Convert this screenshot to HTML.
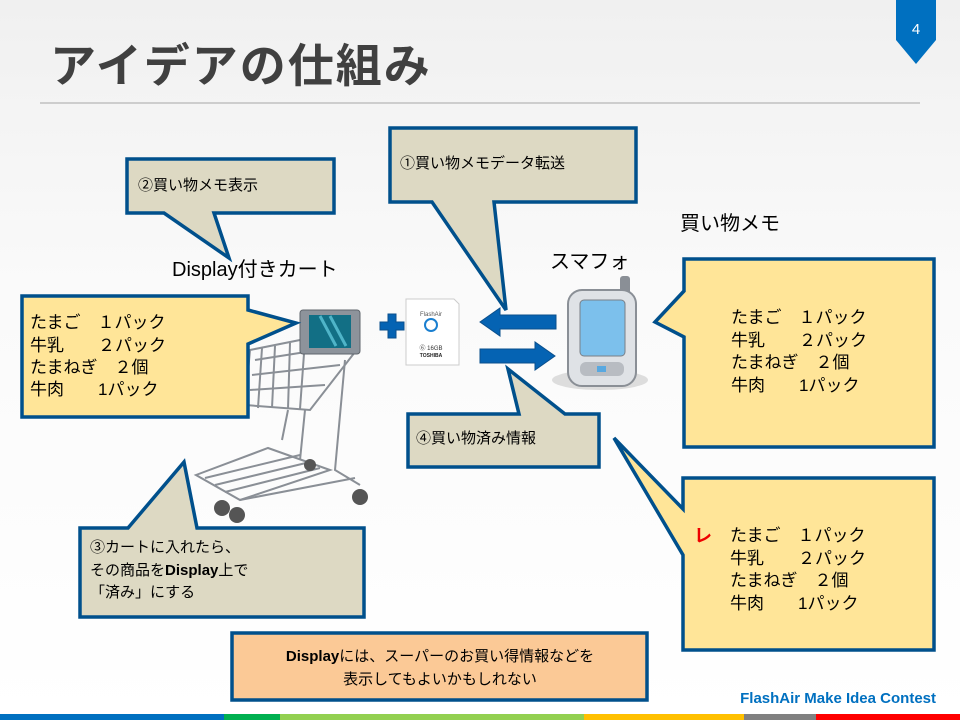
<!DOCTYPE html>
<html><head><meta charset="utf-8"><style>
html,body{margin:0;padding:0}
body{width:960px;height:720px;overflow:hidden;background:linear-gradient(#f0f0f0,#fafafa 40%,#fff);position:relative;font-family:"Liberation Sans","Noto Sans CJK JP",sans-serif}
svg{position:absolute;left:0;top:0}
text{font-family:"Liberation Sans","Noto Sans CJK JP",sans-serif}
</style></head><body>
<svg width="960" height="720" viewBox="0 0 960 720">
<text x="50" y="82" font-size="46" font-weight="bold" fill="#404040" letter-spacing="2">アイデアの仕組み</text>
<line x1="40" y1="103" x2="920" y2="103" stroke="#c0c0c0" stroke-width="1.5"/>
<path d="M896 0 H936 V40 L916 64 L896 40 Z" fill="#0070c0"/>
<text x="916" y="34" font-size="15" fill="#fff" text-anchor="middle">4</text>

<!-- cart -->
<g stroke="#8a8f96" fill="none" stroke-width="2">
<path d="M300 340 L250 350 L245 405 L310 410 L355 352"/>
<path d="M255 360 L350 345 M252 375 L340 365 M250 390 L325 385"/>
<path d="M262 348 L258 408 M275 346 L272 408 M290 343 L288 409 M305 340 L300 409"/>
<path d="M288 410 L282 440 M305 410 L300 460 M345 360 L335 470 L360 485"/>
<path d="M196 475 L268 448 L330 470 L240 500 Z"/>
<path d="M205 478 L300 455 M215 485 L310 462 M225 492 L320 468"/>
<path d="M240 500 L355 478"/>
</g>
<g fill="#555"><circle cx="222" cy="508" r="8"/><circle cx="237" cy="515" r="8"/><circle cx="360" cy="497" r="8"/><circle cx="310" cy="465" r="6"/></g>
<rect x="300" y="310" width="60" height="44" rx="3" fill="#8d939b" stroke="#5f656c"/>
<rect x="309" y="315" width="42" height="33" fill="#126f85"/>
<path d="M320 316 L336 346 M330 316 L346 346" stroke="#4fb4c8" stroke-width="3"/>
<!-- plus -->
<path d="M380 322 h8 v-8 h8 v8 h8 v8 h-8 v8 h-8 v-8 h-8 z" fill="#0563b3" stroke="#0a4f8c"/>
<!-- SD card -->
<path d="M406 299 H454 L459 304 V365 H406 Z" fill="#fff" stroke="#ccc"/>
<text x="431" y="316" font-size="6" fill="#555" text-anchor="middle">FlashAir</text>
<circle cx="431" cy="325" r="6" fill="none" stroke="#1a7fd0" stroke-width="2"/>
<text x="431" y="350" font-size="6" fill="#333" text-anchor="middle">⑥ 16GB</text>
<text x="431" y="357" font-size="5" font-weight="bold" fill="#222" text-anchor="middle">TOSHIBA</text>
<!-- arrows -->
<path d="M556 315 H500 V308 L480 322 L500 336 V329 H556 Z" fill="#0563b3" stroke="#0a4f8c"/>
<path d="M480 349 H535 V342 L555 356 L535 370 V363 H480 Z" fill="#0563b3" stroke="#0a4f8c"/>
<!-- phone -->
<ellipse cx="600" cy="380" rx="48" ry="10" fill="#ddd"/>
<rect x="620" y="276" width="10" height="20" rx="3" fill="#8a8f96"/>
<rect x="568" y="290" width="68" height="96" rx="14" fill="#dfe2e6" stroke="#8a8f96" stroke-width="2"/>
<rect x="580" y="300" width="45" height="56" rx="4" fill="#7cc0ec" stroke="#7a7f86"/>
<rect x="580" y="362" width="44" height="14" rx="6" fill="#b8bcc2"/>
<rect x="597" y="366" width="9" height="6" fill="#58a8e0"/>

<g font-size="20" fill="#000">
<text x="172" y="276">Display付きカート</text>
<text x="550" y="268">スマフォ</text>
<text x="680" y="230">買い物メモ</text>
</g>

<g stroke="#00508c" stroke-width="3.5" stroke-linejoin="miter">
<path d="M127 159 H334 V213 H214 L229 258 L164 213 H127 Z" fill="#ddd9c3"/>
<path d="M390 128 H636 V202 H494 L506 310 L432 202 H390 Z" fill="#ddd9c3"/>
<path d="M22 296 H248 V310 L296 323 L248 344 V417 H22 Z" fill="#ffe598"/>
<path d="M684 259 H934 V447 H684 V337 L655 322 L684 291 Z" fill="#ffe598"/>
<path d="M408 414 H519 L508 369 L565 414 H599 V467 H408 Z" fill="#ddd9c3"/>
<path d="M683 478 H934 V650 H683 V555 L614 438 L683 509 Z" fill="#ffe598"/>
<path d="M80 528 H128 L184 462 L197 528 H364 V617 H80 Z" fill="#ddd9c3"/>
<path d="M232 633 H647 V700 H232 Z" fill="#fbc996"/>
</g>

<g font-size="15" fill="#000">
<text x="138" y="190">②買い物メモ表示</text>
<text x="400" y="168">①買い物メモデータ転送</text>
<text x="416" y="443">④買い物済み情報</text>
<text x="90" y="552">③カートに入れたら、</text>
<text x="90" y="575">その商品を<tspan font-weight="bold">Display</tspan>上で</text>
<text x="90" y="597">「済み」にする</text>
<text x="440" y="661" text-anchor="middle"><tspan font-weight="bold">Display</tspan>には、スーパーのお買い得情報などを</text>
<text x="440" y="684" text-anchor="middle">表示してもよいかもしれない</text>
</g>
<g font-size="17" fill="#000">
<text x="30" y="328">たまご　１パック</text>
<text x="30" y="351">牛乳　　２パック</text>
<text x="30" y="373">たまねぎ　２個</text>
<text x="30" y="395">牛肉　　1パック</text>
<text x="731" y="323">たまご　１パック</text>
<text x="731" y="346">牛乳　　２パック</text>
<text x="731" y="368">たまねぎ　２個</text>
<text x="731" y="391">牛肉　　1パック</text>
<text x="730" y="541">たまご　１パック</text>
<text x="730" y="564">牛乳　　２パック</text>
<text x="730" y="586">たまねぎ　２個</text>
<text x="730" y="609">牛肉　　1パック</text>
</g>
<text x="694" y="542" font-size="18" font-weight="bold" fill="#e00">レ</text>
<text x="936" y="703" font-size="15" font-weight="bold" fill="#0070c0" text-anchor="end">FlashAir Make Idea Contest</text>
<rect x="0" y="714" width="224" height="6" fill="#0070c0"/>
<rect x="224" y="714" width="56" height="6" fill="#00b050"/>
<rect x="280" y="714" width="304" height="6" fill="#92d050"/>
<rect x="584" y="714" width="160" height="6" fill="#ffc000"/>
<rect x="744" y="714" width="72" height="6" fill="#808080"/>
<rect x="816" y="714" width="144" height="6" fill="#ff0000"/>
</svg>
</body></html>
